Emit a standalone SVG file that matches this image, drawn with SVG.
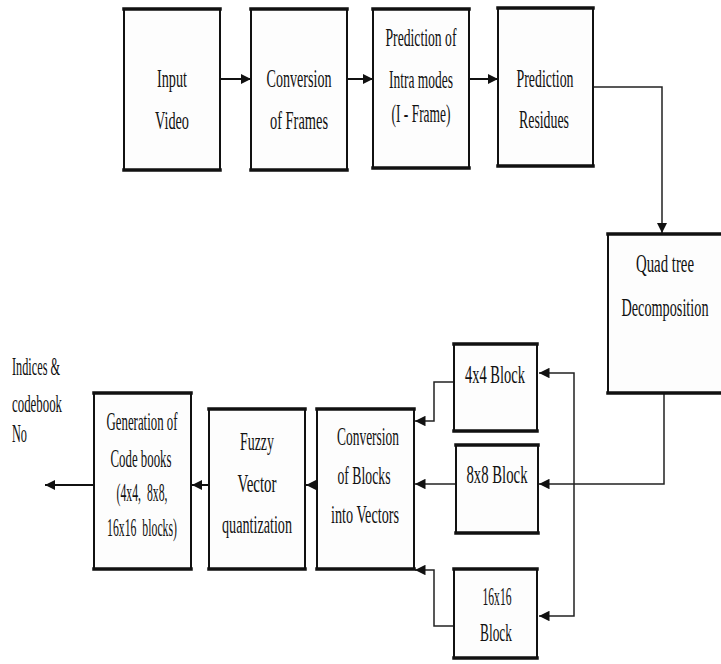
<svg xmlns="http://www.w3.org/2000/svg" width="721" height="664" viewBox="0 0 721 664">
<style>
.box{fill:#fdfdfd;stroke:#111;stroke-width:2}
.tb{stroke:#111;stroke-width:3.5;stroke-linecap:square;fill:none}
.t{font-family:"Liberation Serif","Times New Roman","DejaVu Serif",serif;font-size:25px;fill:#111;text-anchor:middle}
.l{font-family:"Liberation Serif","Times New Roman","DejaVu Serif",serif;font-size:25px;fill:#111}
.c{fill:none;stroke:#111;stroke-width:2}
.c1{fill:none;stroke:#222;stroke-width:1.5}
</style>
<defs>
<marker id="ah" viewBox="0 0 10 10" refX="10" refY="5" markerWidth="5" markerHeight="5" markerUnits="strokeWidth" orient="auto">
<path d="M0,0 L10,5 L0,10 z" fill="#111"/>
</marker>
<marker id="ah2" viewBox="0 0 10 10" refX="10" refY="5" markerWidth="7" markerHeight="7" markerUnits="strokeWidth" orient="auto">
<path d="M0,0 L10,5 L0,10 z" fill="#111"/>
</marker>
</defs>

<g id="connectors">
<path class="c" d="M220,79 H251" marker-end="url(#ah)"/>
<path class="c" d="M347,79 H373" marker-end="url(#ah)"/>
<path class="c" d="M469,79 H498" marker-end="url(#ah)"/>
<path class="c1" d="M593,87 H662 V233" marker-end="url(#ah2)"/>
<path class="c1" d="M664,394 V484 H539" marker-end="url(#ah2)"/>
<path class="c1" d="M574,484 V373 H539" marker-end="url(#ah2)"/>
<path class="c1" d="M574,484 V616 H539" marker-end="url(#ah2)"/>
<path class="c1" d="M454,382 H434 V421 H415" marker-end="url(#ah2)"/>
<path class="c1" d="M456,484 H415" marker-end="url(#ah2)"/>
<path class="c1" d="M454,626 H434 V570 H415" marker-end="url(#ah2)"/>
<path class="c" d="M317,485 H306" marker-end="url(#ah)"/>
<path class="c" d="M209,485 H192" marker-end="url(#ah)"/>
<path class="c" d="M94,485 H45" marker-end="url(#ah)"/>
</g>

<g id="input-video">
<rect class="box" x="124" y="9" width="96" height="161"/>
<path class="tb" d="M124,9 H220 M124,170 H220"/>
<text class="t" x="172" y="87" textLength="30" lengthAdjust="spacingAndGlyphs">Input</text>
<text class="t" x="172" y="129" textLength="34" lengthAdjust="spacingAndGlyphs">Video</text>
</g>

<g id="conversion-frames">
<rect class="box" x="251" y="9" width="96" height="161"/>
<path class="tb" d="M251,9 H347 M251,170 H347"/>
<text class="t" x="299" y="87" textLength="65" lengthAdjust="spacingAndGlyphs">Conversion</text>
<text class="t" x="299" y="129" textLength="58" lengthAdjust="spacingAndGlyphs">of Frames</text>
</g>

<g id="prediction-intra">
<rect class="box" x="373" y="9" width="96" height="159"/>
<path class="tb" d="M373,9 H469 M373,168 H469"/>
<text class="t" x="421" y="46" textLength="71" lengthAdjust="spacingAndGlyphs">Prediction of</text>
<text class="t" x="421" y="88" textLength="64" lengthAdjust="spacingAndGlyphs">Intra modes</text>
<text class="t" x="421" y="122" textLength="59" lengthAdjust="spacingAndGlyphs">(I - Frame)</text>
</g>

<g id="prediction-residues">
<rect class="box" x="498" y="8" width="95" height="158"/>
<path class="tb" d="M498,8 H593 M498,166 H593"/>
<text class="t" x="545" y="87" textLength="57" lengthAdjust="spacingAndGlyphs">Prediction</text>
<text class="t" x="544" y="128" textLength="50" lengthAdjust="spacingAndGlyphs">Residues</text>
</g>

<g id="quadtree">
<rect x="608" y="234" width="113" height="159" fill="#fdfdfd"/>
<path fill="none" stroke="#111" stroke-width="2" d="M721,234 H608 V393 H721"/>
<path class="tb" d="M608,234 H721 M608,393 H721"/>
<text class="t" x="665" y="272" textLength="58" lengthAdjust="spacingAndGlyphs">Quad tree</text>
<text class="t" x="665" y="316" textLength="87" lengthAdjust="spacingAndGlyphs">Decomposition</text>
</g>

<g id="block4">
<rect class="box" x="454" y="344" width="83" height="87"/>
<path class="tb" d="M454,344 H537 M454,431 H537"/>
<text class="t" x="495" y="383" textLength="60" lengthAdjust="spacingAndGlyphs">4x4 Block</text>
</g>

<g id="block8">
<rect class="box" x="456" y="445" width="82" height="88"/>
<path class="tb" d="M456,445 H538 M456,533 H538"/>
<text class="t" x="497" y="483" textLength="61" lengthAdjust="spacingAndGlyphs">8x8 Block</text>
</g>

<g id="block16">
<rect class="box" x="454" y="569" width="83" height="89"/>
<path class="tb" d="M454,569 H537 M454,658 H537"/>
<text class="t" x="497" y="605" textLength="29" lengthAdjust="spacingAndGlyphs">16x16</text>
<text class="t" x="496" y="641" textLength="32" lengthAdjust="spacingAndGlyphs">Block</text>
</g>

<g id="conversion-blocks">
<rect class="box" x="317" y="409" width="97" height="160"/>
<path class="tb" d="M317,409 H414 M317,569 H414"/>
<text class="t" x="368" y="445" textLength="62" lengthAdjust="spacingAndGlyphs">Conversion</text>
<text class="t" x="364" y="484" textLength="53" lengthAdjust="spacingAndGlyphs">of Blocks</text>
<text class="t" x="365" y="523" textLength="68" lengthAdjust="spacingAndGlyphs">into Vectors</text>
</g>

<g id="fuzzy-vq">
<rect class="box" x="209" y="409" width="96" height="160"/>
<path class="tb" d="M209,409 H305 M209,569 H305"/>
<text class="t" x="257" y="450" textLength="34" lengthAdjust="spacingAndGlyphs">Fuzzy</text>
<text class="t" x="257" y="492" textLength="39" lengthAdjust="spacingAndGlyphs">Vector</text>
<text class="t" x="257" y="533" textLength="70" lengthAdjust="spacingAndGlyphs">quantization</text>
</g>

<g id="codebooks">
<rect class="box" x="94" y="393" width="97" height="176"/>
<path class="tb" d="M94,393 H191 M94,569 H191"/>
<text class="t" x="142" y="430" textLength="71" lengthAdjust="spacingAndGlyphs">Generation of</text>
<text class="t" x="141" y="467" textLength="61" lengthAdjust="spacingAndGlyphs">Code books</text>
<text class="t" x="142" y="501" textLength="51" lengthAdjust="spacingAndGlyphs" xml:space="preserve">(4x4,  8x8,</text>
<text class="t" x="142" y="536" textLength="70" lengthAdjust="spacingAndGlyphs" xml:space="preserve">16x16  blocks)</text>
</g>

<g id="output-label">
<text class="l" x="12" y="375" textLength="48" lengthAdjust="spacingAndGlyphs">Indices &amp;</text>
<text class="l" x="12" y="412" textLength="50" lengthAdjust="spacingAndGlyphs">codebook</text>
<text class="l" x="12" y="442" textLength="15" lengthAdjust="spacingAndGlyphs">No</text>
</g>
</svg>
